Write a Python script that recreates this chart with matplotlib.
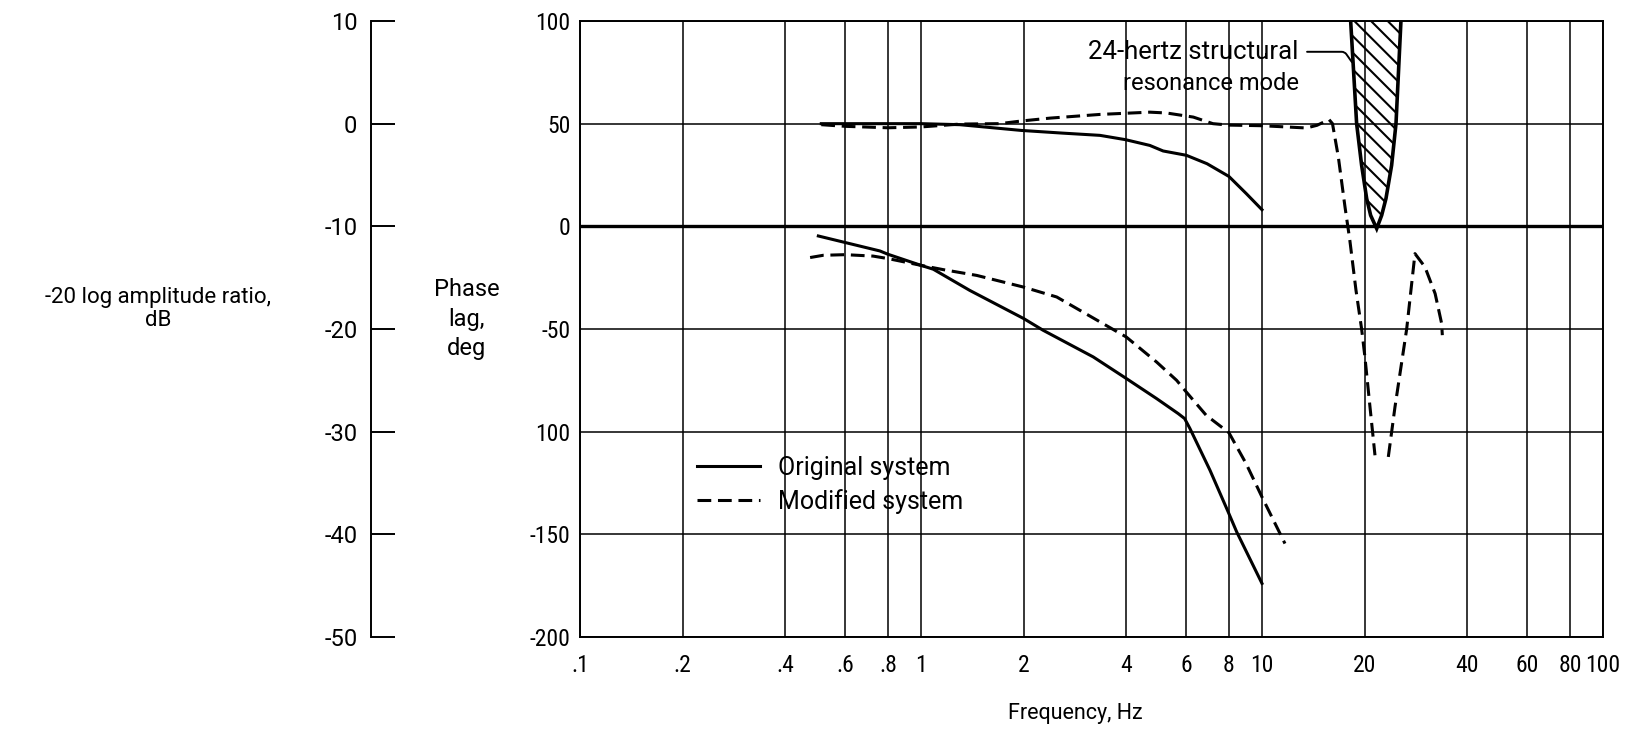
import matplotlib
matplotlib.use("Agg")
import matplotlib.pyplot as plt
from matplotlib.patches import Polygon

plt.rcParams['font.family'] = ['Roboto', 'DejaVu Sans']
plt.rcParams['axes.unicode_minus'] = False
plt.rcParams['hatch.linewidth'] = 1.5
NUM_FONT = ['Roboto Condensed', 'Archivo Narrow', 'DejaVu Sans']

# frequency grid / tick labels
freq_ticks = [0.1, 0.2, 0.4, 0.6, 0.8, 1, 2, 4, 6, 8, 10, 20, 40, 60, 80, 100]
freq_labels = ['.1', '.2', '.4', '.6', '.8', '1', '2', '4', '6', '8', '10', '20', '40', '60', '80', '100']
phase_ticks = [100, 50, 0, -50, -100, -150, -200]
phase_labels = ['100', '50', '0', '-50', '100', '-150', '-200']
db_ticks = [10, 0, -10, -20, -30, -40, -50]

# amplitude, dB
orig_amp_freq = [0.51, 0.7, 1.0, 1.3, 1.97, 2.6, 3.35, 3.98, 4.69, 5.13, 6.0, 6.9, 8.0, 9.0, 10.0]
orig_amp_db = [0.0, 0.0, 0.0, -0.1, -0.66, -0.92, -1.14, -1.56, -2.12, -2.66, -3.08, -3.9, -5.14, -6.82, -8.38]

mod_amp_freq = [0.51, 0.6, 0.8, 1.0, 1.3, 1.7, 1.97, 2.39, 3.35, 4.69, 5.25, 6.29, 7.18, 8.0, 10.0,
                13.5, 14.5, 15.73, 16.1, 16.75, 17.52, 18.1, 18.87, 19.6, 20.04, 20.74, 21.45]
mod_amp_db = [-0.1, -0.26, -0.4, -0.32, -0.04, 0.0, 0.26, 0.54, 0.9, 1.12, 1.04, 0.64, 0.0, -0.14, -0.2,
              -0.42, -0.16, 0.4, 0.0, -3.26, -8.12, -11.36, -16.24, -20.0, -22.72, -27.6, -32.3]

mod_notch_freq = [23.47, 24.55, 26.57, 28.1, 30.06, 32.2, 33.65, 33.8]
mod_notch_db = [-32.46, -27.6, -20.0, -12.66, -13.96, -16.56, -19.48, -20.6]

# phase lag, deg
orig_phase_freq = [0.50, 0.6, 0.758, 0.8, 1.0, 1.087, 1.39, 2.0, 2.28, 3.2, 4.0, 4.91, 5.68, 5.93,
                   6.15, 7.04, 7.96, 8.43, 10.0]
orig_phase = [-4.7, -7.9, -12.0, -13.6, -19.0, -20.9, -31.2, -44.9, -50.6, -63.6, -74.1, -83.9, -91.2,
              -93.6, -98.5, -118.8, -139.1, -148.8, -173.9]

mod_phase_freq = [0.473, 0.517, 0.6, 0.724, 0.8, 1.0, 1.163, 1.457, 2.0, 2.5, 3.42, 4.0, 4.91, 5.62,
                  6.0, 6.86, 8.0, 8.98, 10.0, 11.68]
mod_phase = [-15.2, -14.1, -13.8, -14.5, -15.7, -19.0, -21.1, -23.9, -29.6, -34.4, -47.4, -53.9, -66.1,
             -75.0, -80.7, -92.0, -100.5, -115.5, -131.8, -154.5]

# structural resonance band outline (freq, dB)
res_freq = [18.13, 18.20, 18.95, 19.60, 20.28, 20.83, 21.70, 22.44, 23.10, 24.0, 24.72, 25.56, 25.65]
res_db = [11.0, 10.0, 0.0, -4.06, -7.3, -8.93, -10.22, -8.93, -7.3, -4.06, 0.0, 10.0, 11.0]

fig = plt.figure(figsize=(16.51, 7.29), dpi=100)
ax = fig.add_axes([0.3513, 0.1262, 0.6196, 0.845])

ax.set_xscale('log')
ax.set_xlim(0.1, 100)
ax.set_ylim(-200, 100)
ax.set_xticks(freq_ticks)
ax.set_xticklabels(freq_labels, family=NUM_FONT, fontsize=17)
ax.xaxis.set_minor_locator(matplotlib.ticker.NullLocator())
ax.set_yticks(phase_ticks)
ax.set_yticklabels(phase_labels, family=NUM_FONT, fontsize=17)
ax.tick_params(axis='both', length=0)
ax.tick_params(axis='x', pad=12)
ax.tick_params(axis='y', pad=7)
ax.grid(True, color='black', linewidth=1.1)
ax.axhline(0, color='black', linewidth=2.4)
for s in ax.spines.values():
    s.set_linewidth(1.4)

ax.plot(orig_phase_freq, orig_phase, color='black', lw=2.2, label='Original system')
ax.plot(mod_phase_freq, mod_phase, color='black', lw=2.2, dashes=(4.5, 2.2), label='Modified system')

# amplitude shares the frequency axis, scale shown on a separate left spine
ax2 = ax.twinx()
ax2.yaxis.set_ticks_position('left')
ax2.set_ylim(-50, 10)
ax2.set_yticks(db_ticks)
ax2.set_yticklabels([str(v) for v in db_ticks], family=NUM_FONT, fontsize=17)
ax2.spines['left'].set_visible(True)
ax2.spines['left'].set_position(('axes', -0.204))
ax2.spines['left'].set_linewidth(1.4)
for side in ('right', 'top', 'bottom'):
    ax2.spines[side].set_visible(False)
ax2.tick_params(axis='y', direction='in', length=17, width=1.4, pad=10, labelsize=17)

ax2.plot(orig_amp_freq, orig_amp_db, color='black', lw=2.2)
ax2.plot(mod_amp_freq, mod_amp_db, color='black', lw=2.2, dashes=(4.5, 2.2))
ax2.plot(mod_notch_freq, mod_notch_db, color='black', lw=2.2, dashes=(4.5, 2.2))

band = Polygon(list(zip(res_freq, res_db)), closed=True, facecolor='none', edgecolor='black',
               hatch='\\\\', linewidth=2.6)
ax2.add_patch(band)

ax2.annotate('24-hertz structural', xy=(18.35, 6.0), xytext=(6.3, 7.0),
             ha='center', va='center', fontsize=18.5,
             arrowprops=dict(arrowstyle='-', color='black', lw=1.4, relpos=(1.0, 0.5),
                             connectionstyle='angle,angleA=0,angleB=125,rad=3', shrinkA=4, shrinkB=0))
ax2.text(7.1, 3.9, 'resonance mode', ha='center', va='center', fontsize=17)

ax.legend(loc='upper left', bbox_to_anchor=(0.1144, 0.294), frameon=False, borderpad=0,
          borderaxespad=0, handlelength=2.5, handletextpad=0.75, labelspacing=0.36, fontsize=18)

ax.set_xlabel('Frequency, Hz', fontsize=15.5)
ax.xaxis.set_label_coords(0.484, -0.107)
ax.text(-0.111, 0.516, 'Phase\nlag,\ndeg', transform=ax.transAxes, ha='center', va='center',
        fontsize=17, linespacing=1.38)
ax.text(-0.4125, 0.532, '-20 log amplitude ratio,\ndB', transform=ax.transAxes, ha='center',
        va='center', fontsize=16, linespacing=1.15)

fig.savefig('out.png', dpi=100)
